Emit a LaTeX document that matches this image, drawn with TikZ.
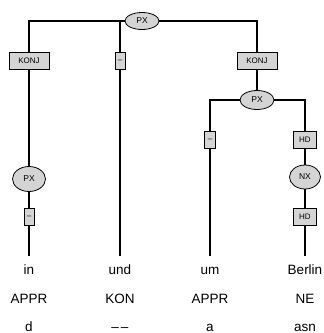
\documentclass[tikz,border=0pt]{standalone}
\usepackage{fontspec}
\setmainfont{Liberation Sans}
\usetikzlibrary{shapes.geometric}

\tikzset{
  edgelbl/.style={draw,line width=0.8pt,fill=black!17,minimum height=17pt,inner sep=1pt,font=\fontsize{8}{9}\selectfont},
  cat/.style={draw,ellipse,line width=0.8pt,fill=black!17,inner sep=0pt,font=\fontsize{8.5}{9}\selectfont},
  tok/.style={anchor=base,inner ysep=4pt,text height=13pt,font=\fontsize{13.5}{15}\selectfont},
}

\begin{document}
\begin{tikzpicture}[x=1pt,y=-1pt,line width=1.1pt]
\useasboundingbox (0,0) rectangle (324,333);
% nodes
\node[cat,minimum width=34pt,minimum height=17pt] (pxtop) at (142,21) {PX};
\node[edgelbl,minimum width=40pt] (konj1) at (29,61) {KONJ};
\node[edgelbl,minimum width=10pt] (sep1) at (120,61) {\textendash};
\node[edgelbl,minimum width=40pt] (konj2) at (257,61) {KONJ};
\node[cat,minimum width=34pt,minimum height=19pt] (pxR) at (257,100) {PX};
\node[edgelbl,minimum width=11pt] (sep2) at (210,140) {\textendash};
\node[edgelbl,minimum width=23pt] (hd1) at (305,140) {HD};
\node[cat,minimum width=31pt,minimum height=24pt] (nx) at (305,177) {NX};
\node[edgelbl,minimum width=23pt] (hd2) at (305,217) {HD};
\node[cat,minimum width=33pt,minimum height=25pt] (pxL) at (29,179) {PX};
\node[edgelbl,minimum width=10pt] (sep3) at (29,217) {\textendash};
% words
\node[tok] (w1) at (29,274) {in};
\node[tok] (w2) at (120,274) {und};
\node[tok] (w3) at (210,274) {um};
\node[tok] (w4) at (305,274) {Berlin};
\node[tok] (p1) at (29,303) {APPR};
\node[tok] (p2) at (120,303) {KON};
\node[tok] (p3) at (210,303) {APPR};
\node[tok] (p4) at (305,303) {NE};
\node[tok] (t1) at (29,331) {d};
\node[tok] (t2) at (120,331) {\textendash\hspace{2pt}\textendash};
\node[tok] (t3) at (210,331) {a};
\node[tok] (t4) at (305,331) {asn};
% edges
\draw (pxtop) -| (konj1);
\draw (pxtop) -| (sep1);
\draw (pxtop) -| (konj2);
\draw (konj1) -- (pxL);
\draw (pxL) -- (sep3);
\draw (sep3) -- (w1.north);
\draw (sep1) -- (w2.north);
\draw (konj2) -- (pxR);
\draw (pxR) -| (sep2);
\draw (pxR) -| (hd1);
\draw (sep2) -- (w3.north);
\draw (hd1) -- (nx);
\draw (nx) -- (hd2);
\draw (hd2) -- (w4.north);
\end{tikzpicture}
\end{document}
